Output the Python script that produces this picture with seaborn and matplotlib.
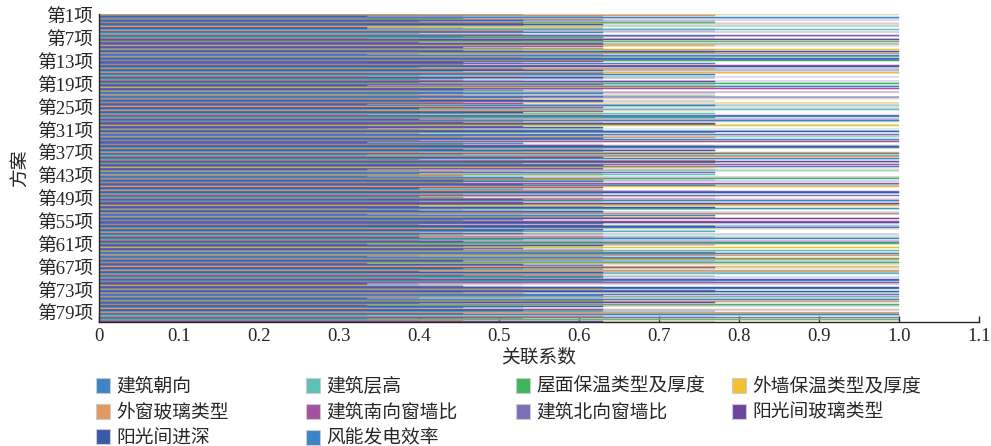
import numpy as np
import pandas as pd
from matplotlib import pyplot as plt
from matplotlib.patches import Patch
import seaborn as sns

sns.set_style('ticks')
plt.rcParams['font.family'] = ['Liberation Serif', 'Noto Sans CJK SC']
plt.rcParams['axes.unicode_minus'] = False

# grey relational coefficient levels, coded 0..8
levels = [0.335, 0.36, 0.375, 0.40, 0.455, 0.53, 0.63, 0.77, 1.0]

factors = ['建筑朝向', '建筑层高', '屋面保温类型及厚度', '外墙保温类型及厚度',
           '外窗玻璃类型', '建筑南向窗墙比', '建筑北向窗墙比', '阳光间玻璃类型',
           '阳光间进深', '风能发电效率']
colors = ['#3d85c6', '#5cc2b5', '#3db55a', '#f1c232', '#e39a5f',
          '#a550a0', '#7d6fb5', '#6a46a0', '#3a5aa9', '#3a84c8']

# level codes for the 81 schemes, one string per factor
chaoxiang = '883560466 054873866 380586764 687048358 645788036 708365846 568607843 834658870 876034685'
cenggao   = '560883746 678508436 845366087 036874568 688653740 453087866 680746358 706568483 348865607'
wumian    = '347860685 686845073 806734856 758608346 073568684 866438705 437085866 588370664 085683748'
waiqiang  = '806654387 846637850 573088466 688465703 830874656 865768034 704356886 466883570 637540868'
waichuang = '768345068 385766804 638458670 460537886 587086463 634680587 058663748 887046365 653878064'
nanxiang  = '485076836 730688645 688745603 845306867 306865478 676853480 863478056 350786684 548606873'
beixiang  = '638458760 407365688 754603868 863680574 866437058 588746306 386508467 068834756 786356480'
boli      = '054687863 568408367 467860538 374856086 768360845 047586638 886634705 645687803 460788356'
jinshen   = '676038584 863586470 046878356 506863487 458606387 380687654 675880643 673465088 803665847'
fengneng  = '860764385 688053746 866537048 836768045 084673568 663804875 407386568 786506834 368457806'

codes = [chaoxiang, cenggao, wumian, waiqiang, waichuang,
         nanxiang, beixiang, boli, jinshen, fengneng]

schemes = ['第%d项' % (i + 1) for i in range(81)]

rows = []
for f, s in zip(factors, codes):
	s = s.replace(' ', '')
	assert len(s) == 81
	for sc, c in zip(schemes, s):
		rows.append({'scheme': sc, 'factor': f, 'value': levels[int(c)]})
df = pd.DataFrame(rows)

fig = plt.figure(figsize=(9.91, 4.46), dpi=100)
ax = fig.add_axes([0.0999, 0.277, 0.888, 0.692])

sns.barplot(data=df, x='value', y='scheme', hue='factor', order=schemes,
            hue_order=factors, palette=colors, orient='h', width=1.0,
            saturation=1, errorbar=None, legend=False, ax=ax)
# thin bars: give each an edge in its own colour so they show as lines
for p in ax.patches:
	p.set_edgecolor(p.get_facecolor())
	p.set_linewidth(0.35)

ax.set_xlim(0, 1.1)
ax.set_ylim(80.5, -0.5)
xt = np.arange(0, 1.11, 0.1)
ax.set_xticks(xt)
ax.set_xticklabels(['0'] + ['%.1f' % v for v in xt[1:]])
yt = list(range(0, 81, 6))
ax.set_yticks(yt)
ax.set_yticklabels([schemes[i] for i in yt])
ax.tick_params(direction='in', length=4, width=1, labelsize=13.5, pad=4)
ax.set_xlabel('关联系数', fontsize=13.5, labelpad=3)
ax.set_ylabel('方案', fontsize=13.5, labelpad=6)
sns.despine(ax=ax)
for sp in ['left', 'bottom']:
	ax.spines[sp].set_linewidth(1.0)

handles = [Patch(facecolor=c, edgecolor='#cccccc', linewidth=0.8, label=f)
           for f, c in zip(factors, colors)]
cols = [[0, 4, 8], [1, 5, 9], [2, 6], [3, 7]]
xs = [0.097, 0.309, 0.521, 0.739]
for xpos, idx in zip(xs, cols):
	fig.legend(handles=[handles[i] for i in idx], loc='upper left',
	           bbox_to_anchor=(xpos, 0.153), frameon=False, fontsize=13.5,
	           handlelength=0.72, handleheight=0.85, handletextpad=0.35,
	           labelspacing=0.42, borderpad=0, borderaxespad=0)

fig.savefig('out.png', dpi=100)
